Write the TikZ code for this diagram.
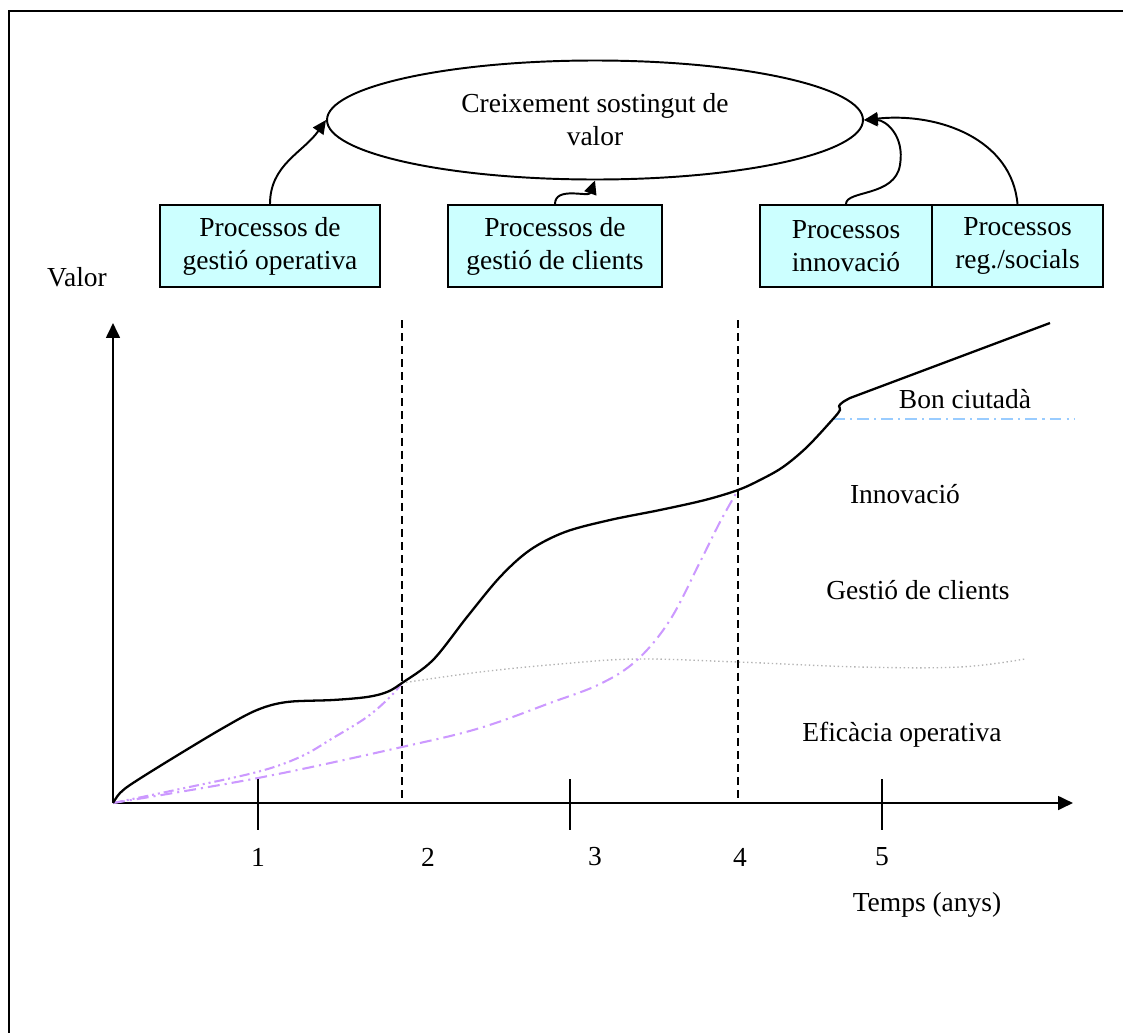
\documentclass[tikz,border=0pt]{standalone}
\usepackage{fontspec}
\setmainfont{Liberation Serif}
\usetikzlibrary{arrows.meta,shapes.geometric}
\definecolor{procfill}{HTML}{CCFFFF}
\definecolor{lilac}{HTML}{CC99FF}
\definecolor{skyline}{HTML}{99CCFF}
\definecolor{softgrey}{HTML}{B4B4B4}
\newcommand\pxl[1]{#1*0.4364pt}
\begin{document}
\begin{tikzpicture}[x=0.4364pt,y=0.4364pt,
  every node/.style={font=\fontsize{12}{14.4}\selectfont, inner sep=0pt},
  proc/.style={draw, line width=0.85pt, fill=procfill, minimum height=\pxl{82}, align=center},
  goal/.style={ellipse, draw, line width=0.85pt, minimum width=\pxl{536}, minimum height=\pxl{119}, align=center},
  feed/.style={line width=0.85pt, -{Triangle[length=6pt,width=5.5pt]}},
  axis/.style={line width=0.95pt, -{Triangle[length=6.5pt,width=6pt]}},
  tick/.style={line width=0.85pt},
  phase/.style={line width=0.7pt, dash pattern=on 3.5pt off 2.2pt},
  total/.style={line width=1pt, line join=round},
  dashdotdot/.style={lilac, line width=0.9pt, dash pattern=on 4.4pt off 1.7pt on 0.9pt off 1.7pt on 0.9pt off 1.7pt},
  dashdot/.style={lilac, line width=0.9pt, dash pattern=on 5.2pt off 2.2pt on 0.9pt off 2.2pt},
  base/.style={softgrey, line width=0.6pt, dash pattern=on 0.6pt off 1.2pt},
  citizen/.style={skyline, line width=0.9pt, dash pattern=on 5.2pt off 2.2pt on 0.9pt off 2.2pt}
]
\useasboundingbox (0,0) rectangle (1123,-1033);

% page frame (left and top edges)
\draw[line width=0.9pt] (9,-1033) -- (9,-11) -- (1123,-11);

% goal and the four process groups
\node[goal] (ell) at (595,-120) {Creixement sostingut de\\valor};
\node[proc, minimum width=\pxl{220}] (b1) at (270,-246) {Processos de\\gestió operativa};
\node[proc, minimum width=\pxl{214}] (b2) at (555,-246) {Processos de\\gestió de clients};
\node[proc, minimum width=\pxl{172}] (b3) at (846,-246) {Processos\\innovació};
\node[proc, minimum width=\pxl{171}] (b4) at (1017.5,-246) {Processos\\reg./socials};

% contributions to the goal
\draw[feed] (b1.north) to[out=90,in=235] (ell.west);
\draw[feed] (b2.north) to[out=90,in=250] (ell.south);
\draw[feed] (b3.north) .. controls (846,-190) and (895,-197) .. (900,-165)
                       .. controls (905,-135) and (885,-120) .. (ell.east);
\draw[feed] (b4.north) .. controls (1012,-140) and (940,-112) .. (ell.east);

% axes
\coordinate (O) at (113,-803);
\coordinate (ytop) at (113,-323);
\coordinate (xend) at (1073,-803);
\draw[axis] (O) -- (ytop);
\draw[axis] (O) -- (xend);
\node (valor) at (77,-277) {Valor};

% year ticks
\foreach \t in {258,570,882} \draw[tick] (\t,-779) -- (\t,-830);
\node (y1) at (258,-857) {1};
\node (y2) at (428,-857) {2};
\node (y3) at (595,-857) {3};
\node (y4) at (740,-857) {4};
\node (y5) at (882,-857) {5};
\node (temps) at (927,-905) {Temps (anys)};

% phase boundaries
\draw[phase] (402,-320) -- (402,-803);
\draw[phase] (738,-320) -- (738,-803);

% operational baseline beyond year 2
\draw[base] plot[smooth, tension=0.6] coordinates {(402,-683) (480,-672) (560,-664) (637,-659) (738,-662) (860,-667) (960,-667) (1025,-659)};

% partial value curves
\draw[dashdotdot] plot[smooth, tension=0.6] coordinates {(113,-803) (180,-789) (257,-772) (300,-757) (333,-738) (367,-717) (390,-697) (402,-683)};
\draw[dashdot] plot[smooth, tension=0.6] coordinates {(113,-803) (258,-778) (402,-747) (480,-728) (550,-703) (600,-684) (637,-660) (670,-620) (700,-562) (720,-522) (738,-490)};

% good-citizen level
\draw[citizen] (833,-419) -- (1075,-419);

% total value curve
\draw[total] plot[smooth, tension=0.55] coordinates {(113,-803) (120,-793) (133,-783) (173,-758) (223,-728) (257,-710) (287,-702) (333,-700) (367,-697) (387,-692) (402,-683) (433,-660) (467,-617) (500,-577) (530,-550) (565,-532) (610,-520) (660,-510) (705,-500) (738,-490) (760,-480) (783,-467) (807,-447) (833,-419) (840,-410) (839,-406) (843,-402) (850,-398)} -- (1050,-323);

% region labels
\node (bon) at (965,-399) {Bon ciutadà};
\node (inno) at (905,-494) {Innovació};
\node (gest) at (918,-590) {Gestió de clients};
\node (efic) at (902,-735) {Eficàcia operativa};
\end{tikzpicture}
\end{document}
